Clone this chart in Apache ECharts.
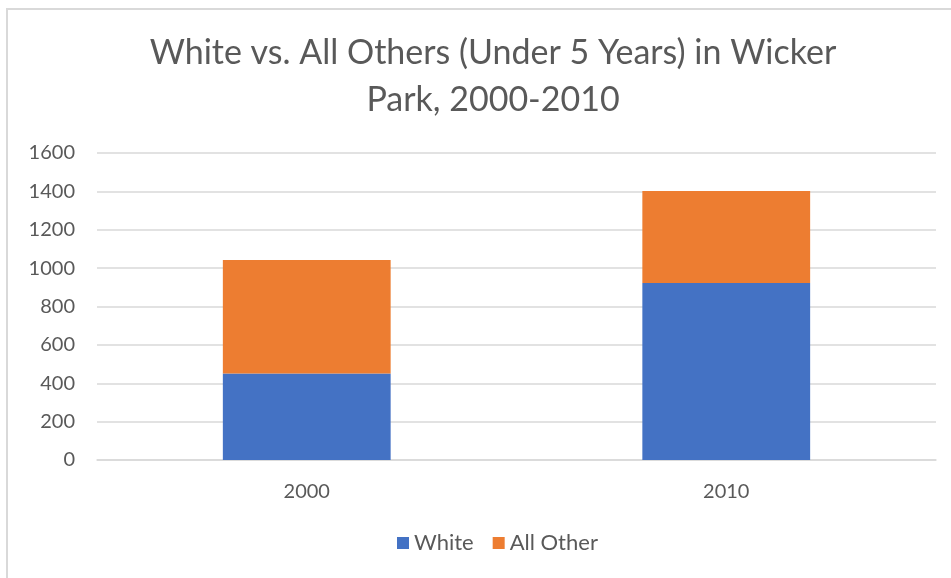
<!DOCTYPE html>
<html><head><meta charset="utf-8">
<script src="https://cdn.jsdelivr.net/npm/echarts@6/dist/echarts.min.js"></script>
<style>html,body{margin:0;padding:0;background:#fff}#c{width:951px;height:578px}</style>
</head><body><div id="c"></div>
<script>
const categories = ['2000', '2010'];
const whiteValues = [451, 922];
const allOtherValues = [591, 480];
const yTicks = [0, 200, 400, 600, 800, 1000, 1200, 1400, 1600];
const titleText = 'White vs. All Others (Under 5 Years) in Wicker\nPark, 2000-2010';

const font = 'Lato, "Open Sans", sans-serif';
const chart = echarts.init(document.getElementById('c'), null, {renderer: 'canvas'});
chart.setOption({
  animation: false,
  backgroundColor: '#fff',
  graphic: [{
    type: 'rect', shape: {x: 7, y: 9, width: 1200, height: 1000},
    style: {fill: 'none', stroke: '#d9d9d9', lineWidth: 2}, z: -1
  }],
  title: {
    text: titleText, left: 488, textAlign: 'center', top: 25,
    textStyle: {fontFamily: font, fontSize: 34, fontWeight: 'normal', color: '#595959', lineHeight: 47}
  },
  legend: {
    bottom: 19, left: 392, itemWidth: 12, itemHeight: 12, itemGap: 19, icon: 'rect',
    textStyle: {fontFamily: font, fontSize: 22, color: '#595959'}
  },
  grid: {left: 97, right: 15, top: 153, bottom: 118, containLabel: false},
  xAxis: {
    type: 'category', data: categories,
    axisLine: {lineStyle: {color: '#d9d9d9', width: 1.5}}, axisTick: {show: false},
    axisLabel: {fontFamily: font, fontSize: 20, color: '#595959', margin: 22}
  },
  yAxis: {
    type: 'value', min: yTicks[0], max: yTicks[yTicks.length - 1], interval: 200,
    axisLine: {show: false}, axisTick: {show: false},
    splitLine: {lineStyle: {color: '#d9d9d9', width: 1.5}},
    axisLabel: {fontFamily: font, fontSize: 20, color: '#595959', margin: 22, formatter: v => String(v)}
  },
  series: [
    {name: 'White', type: 'bar', stack: 'a', data: whiteValues, barWidth: '40%', itemStyle: {color: '#4472c4'}},
    {name: 'All Other', type: 'bar', stack: 'a', data: allOtherValues, barWidth: '40%', itemStyle: {color: '#ed7d31'}}
  ]
});
</script></body></html>
